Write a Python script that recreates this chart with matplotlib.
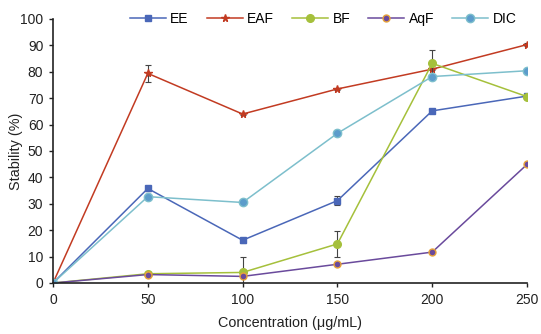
import matplotlib
matplotlib.use("Agg")
import matplotlib.pyplot as plt

plt.rcParams['font.family'] = ['Liberation Sans', 'DejaVu Sans']

conc = [0, 50, 100, 150, 200, 250]
EE = [0, 35.8, 16.2, 31.2, 65.2, 70.8]
EE_err = [0, 1.0, 1.0, 1.8, 0.8, 0.5]
EAF = [0, 79.4, 64.0, 73.5, 81.0, 90.3]
EAF_err = [0, 3.3, 0.5, 0.5, 0.5, 0.5]
BF = [0, 3.5, 4.0, 14.8, 83.2, 70.6]
BF_err = [0, 0.5, 5.8, 4.8, 5.0, 0.5]
AqF = [0, 3.2, 2.5, 7.1, 11.7, 44.9]
AqF_err = [0, 0.3, 0.3, 0.3, 0.3, 0.3]
DIC = [0, 32.7, 30.5, 56.7, 78.2, 80.4]
DIC_err = [0, 0.3, 0.3, 0.3, 0.3, 0.3]

W, H = 541, 334
fig = plt.figure(figsize=(W / 100, H / 100), dpi=100)
ax = fig.add_axes([53 / W, (H - 283) / H, 474 / W, 264 / H])

series = [
    ('EE', EE, EE_err, dict(color='#4A67B8', marker='s', markersize=4.5)),
    ('EAF', EAF, EAF_err, dict(color='#C23B22', marker='*', markersize=5.5)),
    ('BF', BF, BF_err, dict(color='#A5C03B', marker='o', markersize=5.5)),
    ('AqF', AqF, AqF_err, dict(color='#6A4A9C', marker='o', markersize=5,
                               markerfacecolor='#6A4A9C', markeredgecolor='#E8A33A',
                               markeredgewidth=1.0)),
    ('DIC', DIC, DIC_err, dict(color='#7DBFCC', marker='o', markersize=6,
                               markerfacecolor='#5C9CCB', markeredgecolor='#7DBFCC')),
]

for name, vals, errs, style in series:
    ax.errorbar(conc, vals, yerr=errs, fmt='none', ecolor='#444444',
                elinewidth=0.8, capsize=2.5, capthick=0.8)
    ax.plot(conc, vals, linewidth=1.1, label=name, **style)

ax.set_xlim(0, 250)
ax.set_ylim(0, 100)
ax.set_xticks(conc)
ax.set_yticks(range(0, 101, 10))
ax.spines['top'].set_visible(False)
ax.spines['right'].set_visible(False)
for s in ('left', 'bottom'):
    ax.spines[s].set_linewidth(1.2)
    ax.spines[s].set_color('#222222')
ax.tick_params(direction='out', length=3, width=1.0, pad=4, labelsize=10, colors='#222222')

fig.text(16 / W, 1 - 151 / H, 'Stability (%)', rotation=90, ha='center', va='center',
         fontsize=10.4, color='#222222')
fig.text(290 / W, 1 - 323 / H, 'Concentration (μg/mL)', ha='center', va='center',
         fontsize=10.4, color='#222222')

ax.legend(loc='upper center', bbox_to_anchor=(0.57, 1.075), ncol=5, frameon=False,
          fontsize=10, handlelength=2.6, columnspacing=1.3, handletextpad=0.3)

fig.savefig('out.png', dpi=100)
